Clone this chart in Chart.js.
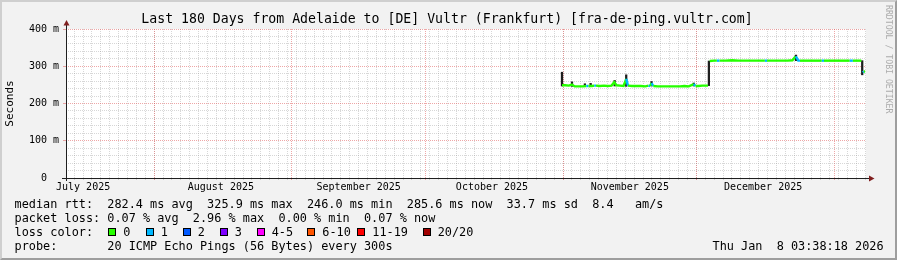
<!DOCTYPE html>
<html>
<head>
<meta charset="utf-8">
<script src="https://cdn.jsdelivr.net/npm/chart.js@4"></script>
<style>
html,body{margin:0;padding:0;background:#F2F2F2}
#wrap{position:relative;width:897px;height:260px;background:#F2F2F2;overflow:hidden;font-family:"DejaVu Sans Mono",monospace;color:#000}
#frame{position:absolute;left:0;top:0;width:897px;height:260px;box-sizing:border-box;border:2px solid;border-color:#CFCFCF #9E9E9E #9E9E9E #CFCFCF;pointer-events:none;z-index:3}
canvas{position:absolute;left:0;top:0}
#title{position:absolute;left:0;top:11px;width:894px;text-align:center;font-size:13.2px;line-height:16px;white-space:pre}
.t{position:absolute;white-space:pre;font-size:11.85px;line-height:14px}
.sq{position:absolute;width:6px;height:6px;border:1px solid #000}
#wm{position:absolute;left:884px;top:5px;writing-mode:vertical-rl;font-size:8.2px;line-height:9px;color:#ACACAC;white-space:pre}
</style>
</head>
<body>
<div id="wrap">
  <canvas id="c" width="897" height="260"></canvas>
  <div id="title">Last 180 Days from Adelaide to [DE] Vultr (Frankfurt) [fra-de-ping.vultr.com]</div>
  <div id="wm">RRDTOOL / TOBI OETIKER</div>
  <div class="t" style="left:14.6px;top:197.4px">median rtt:  282.4 ms avg  325.9 ms max  246.0 ms min  285.6 ms now  33.7 ms sd  8.4   am/s</div>
  <div class="t" style="left:14.6px;top:211.2px">packet loss: 0.07 % avg  2.96 % max  0.00 % min  0.07 % now</div>
  <div class="t" style="left:14.6px;top:225.4px">loss color:</div>
  <div id="lossLegend"></div>
  <div class="t" style="left:14.6px;top:239.4px">probe:       20 ICMP Echo Pings (56 Bytes) every 300s</div>
  <div class="t" style="left:712.5px;top:239.4px">Thu Jan  8 03:38:18 2026</div>
  <div id="frame"></div>
</div>
<script>
// ---- axis data (days since 2025-07-12 00:00) ----
const xMin = 0.1514, xMax = 180.1514;
const monthNames = ['July 2025','August 2025','September 2025','October 2025','November 2025','December 2025'];
const monthLabelDays = [4, 35, 66, 96, 127, 157];
const monthStartDays = [20, 51, 81, 112, 142, 173];
const yTickValues = [0,20,40,60,80,100,120,140,160,180,200,220,240,260,280,300,320,340,360,380,400];

// ---- median rtt series (ms) with loss count per sample ----
const days = [111.75,112.5,113.3,114.0,114.6,115.5,116.5,117.2,117.7,118.5,119.0,119.4,120.3,121.2,122.0,122.9,123.5,124.0,124.8,125.6,126.2,126.6,127.5,128.5,129.5,130.5,131.2,131.6,131.9,132.3,133.3,134.3,135.3,136.3,137.3,138.3,139.3,140.3,141.4,141.8,142.5,143.3,144.2,144.6,144.8,145.0,146.0,146.6,147.2,148.5,150.0,151.5,153.0,154.5,156.0,157.4,157.9,159.5,161.0,162.5,163.6,164.0,164.3,164.6,164.9,165.3,166.5,168.0,169.3,170.2,170.7,172.0,173.5,175.0,176.5,177.2,178.3,179.1,179.3,179.45,179.65,179.95];
const median = [249,249,248,251,246,246,246,247,247,247,248,248,247,248,247,248,257,249,248,247,266,248,247,247,247,246,248,247,255,247,246,246,246,246,246,246,247,246,252,247,247,248,248,248,null,314,315,315,315,315,316,315,315,315,315,315,315,315,315,315,316,322,326,322,315,315,315,315,315,315,315,315,315,315,315,315,315,315,null,283,286,286];
const loss = [0,0,0,0,0,0,0,1,0,0,1,0,0,0,0,0,0,0,0,0,1,0,0,0,0,0,1,0,1,0,0,0,0,0,0,0,0,0,1,0,0,0,0,0,0,0,0,1,0,0,0,0,0,0,0,1,0,0,0,0,0,0,1,1,1,0,0,0,0,1,0,0,0,0,1,0,0,0,0,1,0,0];

// ---- smoke (ping spread) spikes ----
const smokeDays = [111.75,114.0,116.9,118.2,123.6,126.2,131.9,141.4,144.8,164.4,179.3];
const smokeLow  = [247,246,246,246,247,246,247,247,248,315,277];
const smokeHigh = [284,258,253,254,262,277,259,255,314,330,315];

// ---- loss colour legend ----
const lossLabels = ['0','1','2','3','4-5','6-10','11-19','20/20'];
const lossColors = ['#26FF00','#00B8FF','#0059FF','#7E00FF','#FF00FF','#FF5500','#FF0000','#A10000'];
const legendBoxX = [108.3,145.7,182.7,219.7,256.7,307.3,357.3,422.7];

function lossColor(n){
  if (n <= 0) return lossColors[0];
  if (n === 1) return lossColors[1];
  if (n === 2) return lossColors[2];
  if (n === 3) return lossColors[3];
  if (n <= 5) return lossColors[4];
  if (n <= 10) return lossColors[5];
  if (n <= 19) return lossColors[6];
  return lossColors[7];
}

const lg = document.getElementById('lossLegend');
lossLabels.forEach((lab, i) => {
  const b = document.createElement('div');
  b.className = 'sq';
  b.style.left = legendBoxX[i] + 'px';
  b.style.top = '228px';
  b.style.background = lossColors[i];
  lg.appendChild(b);
  const t = document.createElement('div');
  t.className = 't';
  t.style.left = (legendBoxX[i] + 15) + 'px';
  t.style.top = '225.4px';
  t.textContent = lab;
  lg.appendChild(t);
});

const FONT = '"DejaVu Sans Mono", monospace';
const MAJ = 'rgba(222,79,79,0.5)';
const MIN = 'rgba(143,143,143,0.36)';
const NONE = 'rgba(0,0,0,0)';

function buildXTicks(){
  const t = [];
  for (let d = 2; d < xMax; d += 2) t.push({value: d, kind: 'minor'});
  monthStartDays.forEach(d => t.push({value: d, kind: 'major'}));
  monthLabelDays.forEach((d, i) => t.push({value: d, kind: 'label', text: monthNames[i]}));
  return t;
}

const plotDecor = {
  id: 'plotDecor',
  beforeDraw(chart){
    const {ctx, chartArea: a} = chart;
    ctx.save();
    ctx.fillStyle = '#FFFFFF';
    ctx.fillRect(a.left, a.top, a.right - a.left, a.bottom - a.top);
    ctx.restore();
  },
  afterDraw(chart){
    const {ctx, chartArea: a} = chart;
    const xl = Math.round(a.left) + 0.5, yb = Math.round(a.bottom) + 0.5;
    ctx.save();
    ctx.strokeStyle = '#1F1F1F';
    ctx.lineWidth = 1;
    ctx.beginPath();
    ctx.moveTo(a.left - 4, yb); ctx.lineTo(a.right + 4, yb);
    ctx.moveTo(xl, a.bottom + 3); ctx.lineTo(xl, a.top - 4);
    ctx.stroke();
    ctx.fillStyle = '#801F1F';
    ctx.beginPath();
    ctx.moveTo(a.right + 3, yb - 3); ctx.lineTo(a.right + 8.5, yb); ctx.lineTo(a.right + 3, yb + 3);
    ctx.closePath(); ctx.fill();
    ctx.beginPath();
    ctx.moveTo(xl - 3, a.top - 3.5); ctx.lineTo(xl, a.top - 9); ctx.lineTo(xl + 3, a.top - 3.5);
    ctx.closePath(); ctx.fill();
    ctx.restore();
  }
};

new Chart(document.getElementById('c'), {
  type: 'line',
  data: {
    datasets: [
      {
        type: 'line',
        label: 'median',
        data: days.map((d, i) => ({x: d, y: median[i]})),
        borderWidth: 2.4,
        pointRadius: 0,
        tension: 0,
        spanGaps: false,
        borderColor: lossColors[0],
        segment: { borderColor: ctx => lossColor(loss[ctx.p0DataIndex]) },
        order: 0
      },
      {
        type: 'bar',
        label: 'smoke',
        data: smokeDays.map((d, i) => ({x: d, y: [smokeLow[i], smokeHigh[i]]})),
        backgroundColor: '#1E1E1E',
        borderWidth: 0,
        barThickness: 1.6,
        order: 1
      }
    ]
  },
  options: {
    responsive: false,
    animation: false,
    events: [],
    layout: { padding: { left: 0, right: 31, top: 29, bottom: 0 } },
    plugins: { legend: { display: false }, tooltip: { enabled: false }, title: { display: false } },
    scales: {
      x: {
        type: 'linear', min: xMin, max: xMax, offset: false,
        afterBuildTicks: s => { s.ticks = buildXTicks(); },
        afterFit: s => { s.height = 82; },
        grid: {
          offset: false,
          color: c => c.tick && c.tick.kind === 'major' ? MAJ : (c.tick && c.tick.kind === 'minor' ? MIN : NONE),
          tickColor: c => c.tick && c.tick.kind === 'major' ? MAJ : (c.tick && c.tick.kind === 'minor' ? MIN : NONE),
          tickLength: 2, lineWidth: 1
        },
        border: { display: false, dash: [1, 1] },
        ticks: {
          autoSkip: false, maxRotation: 0, minRotation: 0, padding: 1,
          font: { family: FONT, size: 10 }, color: '#000',
          callback: (v, i, t) => (t[i] && t[i].kind === 'label') ? t[i].text : ''
        }
      },
      y: {
        type: 'linear', min: 0, max: 400,
        afterBuildTicks: s => { s.ticks = yTickValues.map(v => ({value: v})); },
        afterFit: s => { s.width = 66; },
        grid: {
          color: c => c.tick && c.tick.value % 100 === 0 ? MAJ : MIN,
          tickColor: c => c.tick && c.tick.value % 100 === 0 ? MAJ : NONE,
          tickLength: 3, lineWidth: 1
        },
        border: { display: false, dash: [1, 1] },
        ticks: {
          autoSkip: false, padding: 4,
          font: { family: FONT, size: 10 }, color: '#000',
          callback: v => v % 100 === 0 ? (v === 0 ? '0  ' : v + ' m') : ''
        },
        title: { display: true, text: 'Seconds', color: '#000', font: { family: FONT, size: 11 }, padding: { top: 3.7, bottom: 0 } }
      }
    }
  },
  plugins: [plotDecor]
});
</script>
</body>
</html>
